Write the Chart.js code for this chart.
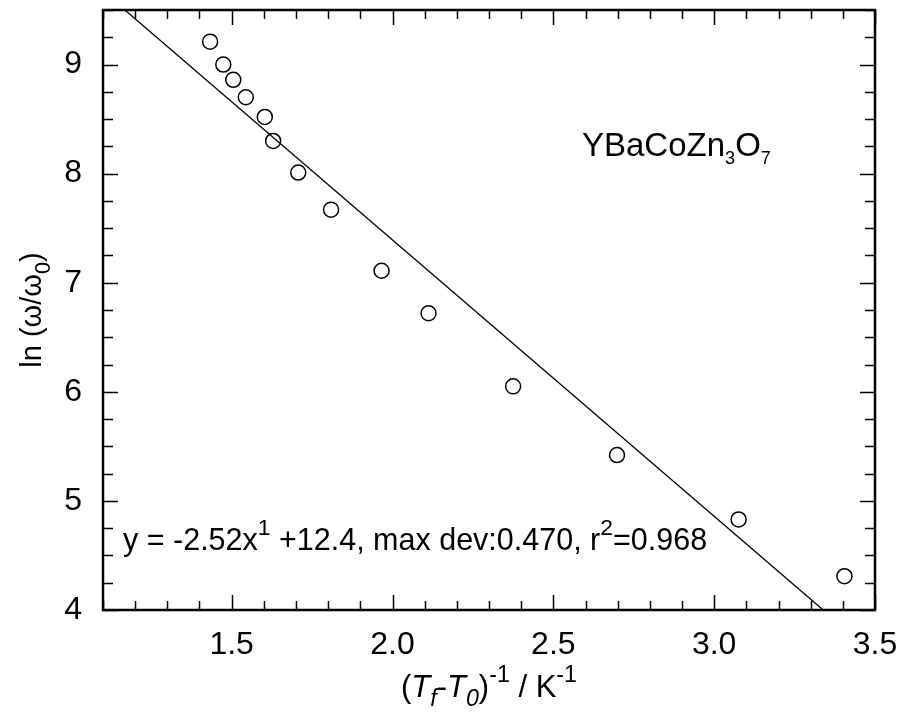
<!DOCTYPE html>
<html>
<head>
<meta charset="utf-8">
<script src="https://cdn.jsdelivr.net/npm/chart.js@4.4.1/dist/chart.umd.min.js"></script>
<style>
  html, body { margin: 0; padding: 0; background: #fff; }
  #wrap { width: 899px; height: 712px; }
</style>
</head>
<body>
<div id="wrap"><canvas id="chart" width="899" height="712"></canvas></div>
<script>
// measured points: x = (Tf - T0)^-1, y = ln(w/w0)
const invT = [1.433, 1.474, 1.505, 1.544, 1.603, 1.629, 1.707, 1.809, 1.966, 2.112, 2.375, 2.698, 3.076, 3.405];
const lnW = [9.21, 9.00, 8.86, 8.70, 8.52, 8.30, 8.01, 7.67, 7.11, 6.72, 6.05, 5.42, 4.83, 4.31];

// fitted line end points (clipped to the frame)
const fitX = [1.168, 3.339];
const fitY = [9.5, 4.0];

const xTicks = [1.5, 2.0, 2.5, 3.0, 3.5];
const yTicks = [4, 5, 6, 7, 8, 9];

const FONT = '"Liberation Sans", Arial, sans-serif';

// draw text made of parts: normal, sup, sub, italic
const drawRich = (ctx, parts, x, y, size, subScale = 0.75, subDrop = 0.3) => {
    let cx = x;
    parts.forEach(p => {
        let fs = size, dy = 0;
        if (p.s === 'sup') { fs = size * 0.75; dy = -size * 0.48; }
        if (p.s === 'sub') { fs = size * subScale; dy = size * subDrop; }
        ctx.font = (p.i ? 'italic ' : '') + fs + 'px ' + FONT;
        ctx.fillText(p.t, cx, y + dy);
        cx += ctx.measureText(p.t).width;
    });
    return cx - x;
};

const richWidth = (ctx, parts, size) => {
    let w = 0;
    parts.forEach(p => {
        const fs = p.s ? size * 0.75 : size;
        ctx.font = (p.i ? 'italic ' : '') + fs + 'px ' + FONT;
        w += ctx.measureText(p.t).width;
    });
    return w;
};

const framePlugin = {
    id: 'frame',
    afterDraw(chart) {
        const { ctx, chartArea: a, scales: { x, y } } = chart;
        ctx.save();
        ctx.strokeStyle = '#000';
        ctx.fillStyle = '#000';

        // minor / major ticks, pointing inward on all four sides
        ctx.lineWidth = 1.5;
        ctx.beginPath();
        for (let i = 11; i <= 35; i++) {
            const px = Math.round(x.getPixelForValue(i / 10)) + 0.5;
            const len = i % 5 === 0 ? 15 : 9;
            ctx.moveTo(px, a.bottom); ctx.lineTo(px, a.bottom - len);
            ctx.moveTo(px, a.top); ctx.lineTo(px, a.top + len);
        }
        for (let i = 16; i <= 38; i++) {
            const py = Math.round(y.getPixelForValue(i / 4)) + 0.5;
            const len = i % 4 === 0 ? 15 : 10;
            ctx.moveTo(a.left, py); ctx.lineTo(a.left + len, py);
            ctx.moveTo(a.right, py); ctx.lineTo(a.right - len, py);
        }
        ctx.stroke();

        ctx.lineWidth = 2.5;
        ctx.strokeRect(a.left, a.top, a.right - a.left, a.bottom - a.top);

        ctx.textBaseline = 'alphabetic';
        ctx.textAlign = 'left';

        // fit equation
        drawRich(ctx, [
            { t: 'y = -2.52x' }, { t: '1', s: 'sup' },
            { t: ' +12.4, max dev:0.470, r' }, { t: '2', s: 'sup' },
            { t: '=0.968' }
        ], 123, 550, 30.5);

        // compound label
        drawRich(ctx, [
            { t: 'YBaCoZn' }, { t: '3', s: 'sub' }, { t: 'O' }, { t: '7', s: 'sub' }
        ], 582, 156, 33, 0.55, 0.25);

        // x title
        const xt = [
            { t: '(' }, { t: 'T', i: true }, { t: 'f', s: 'sub', i: true }, { t: '-' },
            { t: 'T', i: true }, { t: '0', s: 'sub', i: true }, { t: ')' },
            { t: '-1', s: 'sup' }, { t: ' / K' }, { t: '-1', s: 'sup' }
        ];
        const xw = richWidth(ctx, xt, 31);
        drawRich(ctx, xt, 489 - xw / 2, 697, 31);

        // y title
        const yt = [{ t: 'ln (ω/ω' }, { t: '0', s: 'sub' }, { t: ')' }];
        const yw = richWidth(ctx, yt, 29);
        ctx.translate(41, 310);
        ctx.rotate(-Math.PI / 2);
        drawRich(ctx, yt, -yw / 2, 0, 29);

        ctx.restore();
    }
};

new Chart(document.getElementById('chart'), {
    type: 'scatter',
    data: {
        datasets: [{
            label: 'data',
            data: invT.map((v, i) => ({ x: v, y: lnW[i] })),
            pointStyle: 'circle',
            pointRadius: 7.5,
            pointBorderWidth: 1.5,
            borderColor: '#000',
            backgroundColor: 'rgba(0,0,0,0)',
            order: 1
        }, {
            label: 'fit',
            type: 'line',
            data: fitX.map((v, i) => ({ x: v, y: fitY[i] })),
            borderColor: '#000',
            borderWidth: 1.3,
            pointRadius: 0,
            fill: false,
            order: 2
        }]
    },
    options: {
        responsive: false,
        animation: false,
        devicePixelRatio: 1,
        layout: { padding: { left: 0, top: 10, right: 24, bottom: 0 } },
        plugins: {
            legend: { display: false },
            tooltip: { enabled: false }
        },
        scales: {
            x: {
                type: 'linear',
                min: 1.1,
                max: 3.5,
                afterBuildTicks: (s) => { s.ticks = xTicks.map(v => ({ value: v })); },
                afterFit: (s) => {
                    s.height = 102;
                    s.paddingLeft = 0; s.paddingRight = 0;
                },
                grid: { display: false },
                border: { display: false },
                ticks: {
                    padding: 8,
                    color: '#000',
                    font: { family: FONT, size: 32 },
                    callback: (v) => v.toFixed(1)
                }
            },
            y: {
                type: 'linear',
                min: 4,
                max: 9.5,
                afterBuildTicks: (s) => { s.ticks = yTicks.map(v => ({ value: v })); },
                afterFit: (s) => {
                    s.width = 103;
                    s.paddingTop = 0; s.paddingBottom = 0;
                },
                grid: { display: false },
                border: { display: false },
                ticks: {
                    padding: 13,
                    color: '#000',
                    font: { family: FONT, size: 32 },
                    callback: (v) => String(v)
                }
            }
        }
    },
    plugins: [framePlugin]
});
</script>
</body>
</html>
